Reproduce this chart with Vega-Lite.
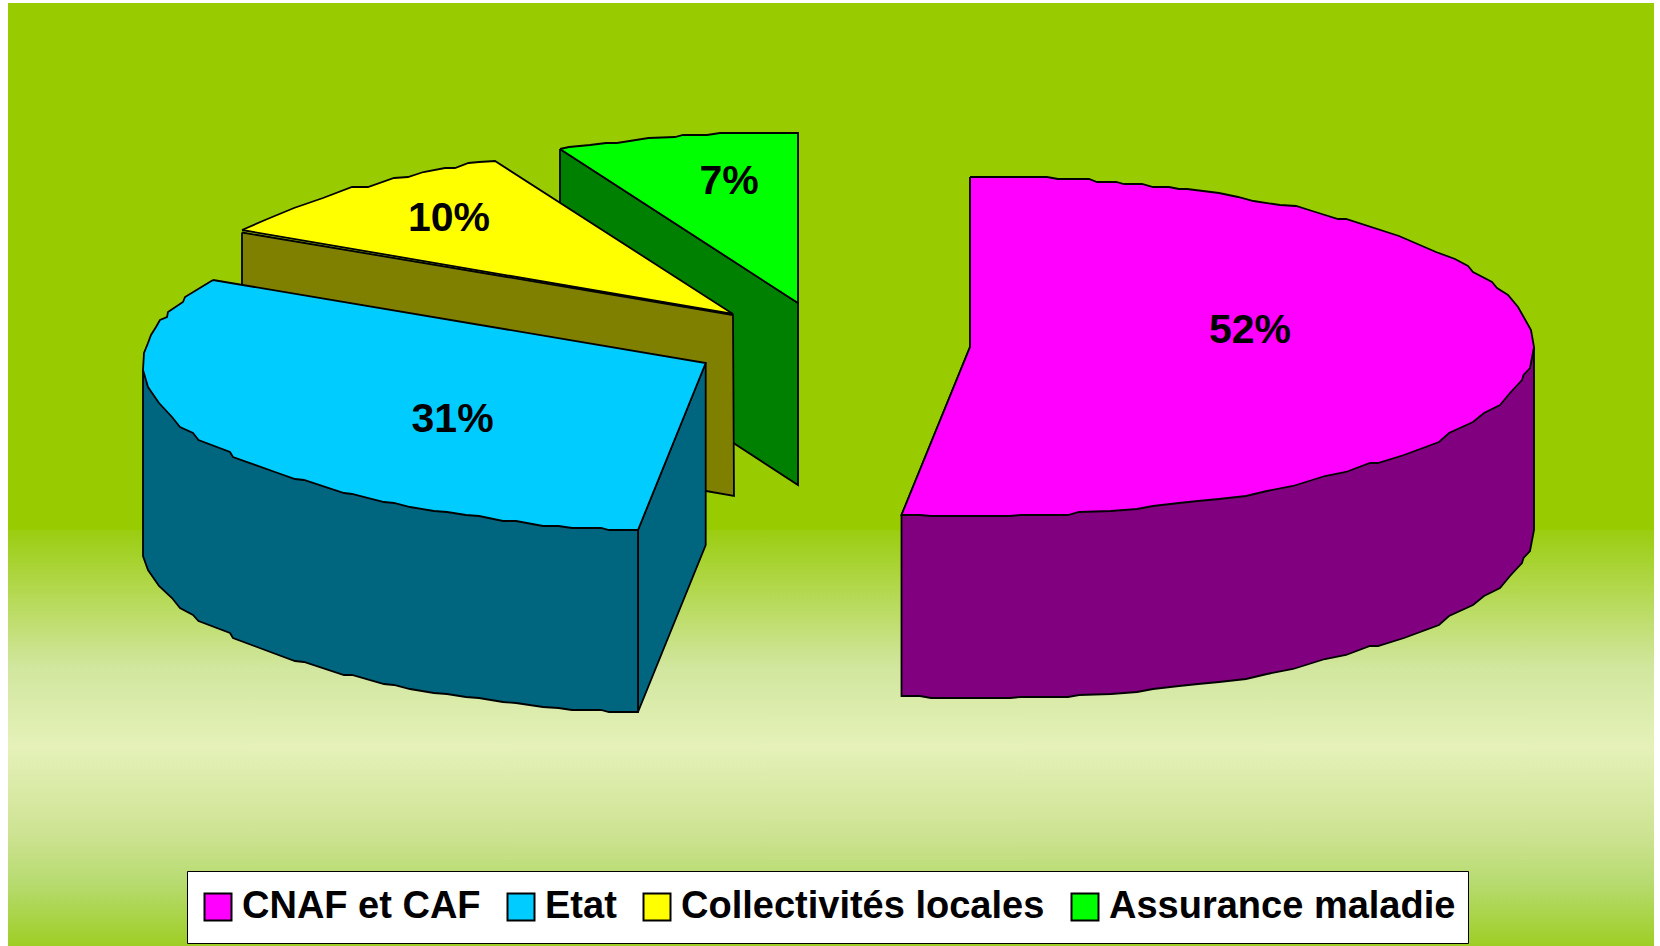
{"$schema":"https://vega.github.io/schema/vega-lite/v6.json","autosize":"none","width":1646,"height":943,"padding":{"left":8,"top":3,"right":6,"bottom":0},"background":"#ffffff","config":{"view":{"stroke":null,"fill":{"gradient":"linear","x1":0,"y1":0,"x2":0,"y2":1,"stops":[{"offset":0,"color":"#99CC00"},{"offset":0.5585,"color":"#99CC00"},{"offset":0.559,"color":"#9BCD10"},{"offset":0.704,"color":"#D1E69E"},{"offset":0.789,"color":"#E5F1B9"},{"offset":0.88,"color":"#CEE393"},{"offset":0.933,"color":"#B7DB70"},{"offset":1,"color":"#9ECE25"}]}}},"datasets":{"sides":[
{"financeur":"Assurance maladie","forme":"g","n":1,"x":560,"y":149},{"financeur":"Assurance maladie","forme":"g","n":2,"x":798,"y":303},{"financeur":"Assurance maladie","forme":"g","n":3,"x":798,"y":485},{"financeur":"Assurance maladie","forme":"g","n":4,"x":560,"y":330},{"financeur":"Assurance maladie","forme":"g","n":5,"x":560,"y":149},
{"financeur":"Collectivités locales","forme":"y","n":1,"x":242,"y":232.5},{"financeur":"Collectivités locales","forme":"y","n":2,"x":733,"y":315},{"financeur":"Collectivités locales","forme":"y","n":3,"x":734,"y":496},{"financeur":"Collectivités locales","forme":"y","n":4,"x":706,"y":491},{"financeur":"Collectivités locales","forme":"y","n":5,"x":242,"y":416},{"financeur":"Collectivités locales","forme":"y","n":6,"x":242,"y":232.5},
{"financeur":"Etat","forme":"b1","n":1,"x":638,"y":530},{"financeur":"Etat","forme":"b1","n":2,"x":705.7,"y":363},{"financeur":"Etat","forme":"b1","n":3,"x":705.7,"y":545},{"financeur":"Etat","forme":"b1","n":4,"x":638,"y":712},{"financeur":"Etat","forme":"b1","n":5,"x":638,"y":530},
{"financeur":"Etat","forme":"b2","n":1,"x":143,"y":370},{"financeur":"Etat","forme":"b2","n":2,"x":143,"y":556},{"financeur":"Etat","forme":"b2","n":3,"x":148,"y":570},{"financeur":"Etat","forme":"b2","n":4,"x":159,"y":586},{"financeur":"Etat","forme":"b2","n":5,"x":172,"y":598},{"financeur":"Etat","forme":"b2","n":6,"x":180,"y":608},{"financeur":"Etat","forme":"b2","n":7,"x":193,"y":615},{"financeur":"Etat","forme":"b2","n":8,"x":198.5,"y":621},{"financeur":"Etat","forme":"b2","n":9,"x":230,"y":633},{"financeur":"Etat","forme":"b2","n":10,"x":233,"y":638},{"financeur":"Etat","forme":"b2","n":11,"x":265,"y":650},{"financeur":"Etat","forme":"b2","n":12,"x":295,"y":661},{"financeur":"Etat","forme":"b2","n":13,"x":304,"y":662},{"financeur":"Etat","forme":"b2","n":14,"x":344,"y":675},{"financeur":"Etat","forme":"b2","n":15,"x":352,"y":675},{"financeur":"Etat","forme":"b2","n":16,"x":384,"y":684},{"financeur":"Etat","forme":"b2","n":17,"x":394,"y":685},{"financeur":"Etat","forme":"b2","n":18,"x":410,"y":689},{"financeur":"Etat","forme":"b2","n":19,"x":434,"y":693},{"financeur":"Etat","forme":"b2","n":20,"x":447,"y":694},{"financeur":"Etat","forme":"b2","n":21,"x":466,"y":697},{"financeur":"Etat","forme":"b2","n":22,"x":479,"y":698},{"financeur":"Etat","forme":"b2","n":23,"x":503,"y":702},{"financeur":"Etat","forme":"b2","n":24,"x":516,"y":703},{"financeur":"Etat","forme":"b2","n":25,"x":543,"y":707},{"financeur":"Etat","forme":"b2","n":26,"x":558.5,"y":708},{"financeur":"Etat","forme":"b2","n":27,"x":572,"y":710},{"financeur":"Etat","forme":"b2","n":28,"x":601,"y":710},{"financeur":"Etat","forme":"b2","n":29,"x":609,"y":712},{"financeur":"Etat","forme":"b2","n":30,"x":638,"y":712},{"financeur":"Etat","forme":"b2","n":31,"x":638,"y":530},{"financeur":"Etat","forme":"b2","n":32,"x":143,"y":370},
{"financeur":"CNAF et CAF","forme":"m","n":1,"x":1534,"y":347},{"financeur":"CNAF et CAF","forme":"m","n":2,"x":1534,"y":530},{"financeur":"CNAF et CAF","forme":"m","n":3,"x":1530,"y":551},{"financeur":"CNAF et CAF","forme":"m","n":4,"x":1523.5,"y":558},{"financeur":"CNAF et CAF","forme":"m","n":5,"x":1522,"y":563},{"financeur":"CNAF et CAF","forme":"m","n":6,"x":1515.5,"y":570},{"financeur":"CNAF et CAF","forme":"m","n":7,"x":1510,"y":576},{"financeur":"CNAF et CAF","forme":"m","n":8,"x":1500,"y":588},{"financeur":"CNAF et CAF","forme":"m","n":9,"x":1484,"y":596},{"financeur":"CNAF et CAF","forme":"m","n":10,"x":1473,"y":605},{"financeur":"CNAF et CAF","forme":"m","n":11,"x":1449,"y":616},{"financeur":"CNAF et CAF","forme":"m","n":12,"x":1439,"y":625},{"financeur":"CNAF et CAF","forme":"m","n":13,"x":1404,"y":638},{"financeur":"CNAF et CAF","forme":"m","n":14,"x":1378,"y":646},{"financeur":"CNAF et CAF","forme":"m","n":15,"x":1370,"y":646},{"financeur":"CNAF et CAF","forme":"m","n":16,"x":1346,"y":655},{"financeur":"CNAF et CAF","forme":"m","n":17,"x":1325,"y":659},{"financeur":"CNAF et CAF","forme":"m","n":18,"x":1293,"y":669},{"financeur":"CNAF et CAF","forme":"m","n":19,"x":1267,"y":674},{"financeur":"CNAF et CAF","forme":"m","n":20,"x":1246,"y":679},{"financeur":"CNAF et CAF","forme":"m","n":21,"x":1219,"y":682},{"financeur":"CNAF et CAF","forme":"m","n":22,"x":1198,"y":684},{"financeur":"CNAF et CAF","forme":"m","n":23,"x":1179,"y":686},{"financeur":"CNAF et CAF","forme":"m","n":24,"x":1153,"y":689},{"financeur":"CNAF et CAF","forme":"m","n":25,"x":1137,"y":692},{"financeur":"CNAF et CAF","forme":"m","n":26,"x":1111,"y":694},{"financeur":"CNAF et CAF","forme":"m","n":27,"x":1079,"y":695},{"financeur":"CNAF et CAF","forme":"m","n":28,"x":1068,"y":697},{"financeur":"CNAF et CAF","forme":"m","n":29,"x":1021,"y":697},{"financeur":"CNAF et CAF","forme":"m","n":30,"x":1010,"y":698},{"financeur":"CNAF et CAF","forme":"m","n":31,"x":931,"y":698},{"financeur":"CNAF et CAF","forme":"m","n":32,"x":920,"y":696},{"financeur":"CNAF et CAF","forme":"m","n":33,"x":901.5,"y":696},{"financeur":"CNAF et CAF","forme":"m","n":34,"x":901.5,"y":515},{"financeur":"CNAF et CAF","forme":"m","n":35,"x":970,"y":347},{"financeur":"CNAF et CAF","forme":"m","n":36,"x":1534,"y":347}
],"tops":[
{"financeur":"Assurance maladie","forme":"g","n":1,"x":560,"y":149},{"financeur":"Assurance maladie","forme":"g","n":2,"x":569,"y":147},{"financeur":"Assurance maladie","forme":"g","n":3,"x":590,"y":145},{"financeur":"Assurance maladie","forme":"g","n":4,"x":606,"y":143},{"financeur":"Assurance maladie","forme":"g","n":5,"x":617,"y":143},{"financeur":"Assurance maladie","forme":"g","n":6,"x":648.5,"y":138},{"financeur":"Assurance maladie","forme":"g","n":7,"x":675,"y":137},{"financeur":"Assurance maladie","forme":"g","n":8,"x":683,"y":135},{"financeur":"Assurance maladie","forme":"g","n":9,"x":707,"y":135},{"financeur":"Assurance maladie","forme":"g","n":10,"x":720,"y":133},{"financeur":"Assurance maladie","forme":"g","n":11,"x":798,"y":133},{"financeur":"Assurance maladie","forme":"g","n":12,"x":798,"y":303},{"financeur":"Assurance maladie","forme":"g","n":13,"x":560,"y":149},
{"financeur":"Collectivités locales","forme":"y","n":1,"x":242,"y":230},{"financeur":"Collectivités locales","forme":"y","n":2,"x":265,"y":220},{"financeur":"Collectivités locales","forme":"y","n":3,"x":294,"y":208},{"financeur":"Collectivités locales","forme":"y","n":4,"x":323,"y":198},{"financeur":"Collectivités locales","forme":"y","n":5,"x":352,"y":187},{"financeur":"Collectivités locales","forme":"y","n":6,"x":368,"y":187},{"financeur":"Collectivités locales","forme":"y","n":7,"x":394,"y":178},{"financeur":"Collectivités locales","forme":"y","n":8,"x":408,"y":177},{"financeur":"Collectivités locales","forme":"y","n":9,"x":423.5,"y":172},{"financeur":"Collectivités locales","forme":"y","n":10,"x":445,"y":168},{"financeur":"Collectivités locales","forme":"y","n":11,"x":455,"y":168},{"financeur":"Collectivités locales","forme":"y","n":12,"x":468.5,"y":163},{"financeur":"Collectivités locales","forme":"y","n":13,"x":479,"y":162},{"financeur":"Collectivités locales","forme":"y","n":14,"x":495,"y":161},{"financeur":"Collectivités locales","forme":"y","n":15,"x":733,"y":314},{"financeur":"Collectivités locales","forme":"y","n":16,"x":242,"y":230},
{"financeur":"Etat","forme":"b","n":1,"x":213,"y":280},{"financeur":"Etat","forme":"b","n":2,"x":185,"y":297},{"financeur":"Etat","forme":"b","n":3,"x":183,"y":302},{"financeur":"Etat","forme":"b","n":4,"x":168,"y":312},{"financeur":"Etat","forme":"b","n":5,"x":167,"y":317},{"financeur":"Etat","forme":"b","n":6,"x":160,"y":320},{"financeur":"Etat","forme":"b","n":7,"x":156,"y":327},{"financeur":"Etat","forme":"b","n":8,"x":151,"y":335},{"financeur":"Etat","forme":"b","n":9,"x":148,"y":343},{"financeur":"Etat","forme":"b","n":10,"x":144,"y":353},{"financeur":"Etat","forme":"b","n":11,"x":143,"y":370},{"financeur":"Etat","forme":"b","n":12,"x":148,"y":387},{"financeur":"Etat","forme":"b","n":13,"x":159,"y":403},{"financeur":"Etat","forme":"b","n":14,"x":172,"y":417},{"financeur":"Etat","forme":"b","n":15,"x":180,"y":427},{"financeur":"Etat","forme":"b","n":16,"x":193,"y":433},{"financeur":"Etat","forme":"b","n":17,"x":198.5,"y":440},{"financeur":"Etat","forme":"b","n":18,"x":230,"y":452},{"financeur":"Etat","forme":"b","n":19,"x":233,"y":457},{"financeur":"Etat","forme":"b","n":20,"x":275,"y":472},{"financeur":"Etat","forme":"b","n":21,"x":295,"y":479},{"financeur":"Etat","forme":"b","n":22,"x":304,"y":480},{"financeur":"Etat","forme":"b","n":23,"x":344,"y":493},{"financeur":"Etat","forme":"b","n":24,"x":352,"y":494},{"financeur":"Etat","forme":"b","n":25,"x":384,"y":502},{"financeur":"Etat","forme":"b","n":26,"x":394,"y":503},{"financeur":"Etat","forme":"b","n":27,"x":410,"y":507},{"financeur":"Etat","forme":"b","n":28,"x":434,"y":511},{"financeur":"Etat","forme":"b","n":29,"x":447,"y":512},{"financeur":"Etat","forme":"b","n":30,"x":466,"y":515},{"financeur":"Etat","forme":"b","n":31,"x":479,"y":516},{"financeur":"Etat","forme":"b","n":32,"x":503,"y":521},{"financeur":"Etat","forme":"b","n":33,"x":516,"y":521},{"financeur":"Etat","forme":"b","n":34,"x":543,"y":526},{"financeur":"Etat","forme":"b","n":35,"x":558.5,"y":526},{"financeur":"Etat","forme":"b","n":36,"x":572,"y":528},{"financeur":"Etat","forme":"b","n":37,"x":601,"y":528},{"financeur":"Etat","forme":"b","n":38,"x":609,"y":530},{"financeur":"Etat","forme":"b","n":39,"x":638,"y":530},{"financeur":"Etat","forme":"b","n":40,"x":705.7,"y":363},{"financeur":"Etat","forme":"b","n":41,"x":213,"y":280},
{"financeur":"CNAF et CAF","forme":"m","n":1,"x":970,"y":177},{"financeur":"CNAF et CAF","forme":"m","n":2,"x":1047,"y":177},{"financeur":"CNAF et CAF","forme":"m","n":3,"x":1058,"y":179},{"financeur":"CNAF et CAF","forme":"m","n":4,"x":1089,"y":179},{"financeur":"CNAF et CAF","forme":"m","n":5,"x":1097,"y":182},{"financeur":"CNAF et CAF","forme":"m","n":6,"x":1116,"y":182},{"financeur":"CNAF et CAF","forme":"m","n":7,"x":1124,"y":184},{"financeur":"CNAF et CAF","forme":"m","n":8,"x":1142,"y":184},{"financeur":"CNAF et CAF","forme":"m","n":9,"x":1153,"y":187},{"financeur":"CNAF et CAF","forme":"m","n":10,"x":1169,"y":187},{"financeur":"CNAF et CAF","forme":"m","n":11,"x":1179,"y":189},{"financeur":"CNAF et CAF","forme":"m","n":12,"x":1187,"y":189},{"financeur":"CNAF et CAF","forme":"m","n":13,"x":1219,"y":193},{"financeur":"CNAF et CAF","forme":"m","n":14,"x":1238,"y":197},{"financeur":"CNAF et CAF","forme":"m","n":15,"x":1253.5,"y":201},{"financeur":"CNAF et CAF","forme":"m","n":16,"x":1280,"y":205},{"financeur":"CNAF et CAF","forme":"m","n":17,"x":1296,"y":206},{"financeur":"CNAF et CAF","forme":"m","n":18,"x":1309,"y":210},{"financeur":"CNAF et CAF","forme":"m","n":19,"x":1338,"y":219},{"financeur":"CNAF et CAF","forme":"m","n":20,"x":1346,"y":219},{"financeur":"CNAF et CAF","forme":"m","n":21,"x":1399,"y":236},{"financeur":"CNAF et CAF","forme":"m","n":22,"x":1436,"y":252},{"financeur":"CNAF et CAF","forme":"m","n":23,"x":1455,"y":259},{"financeur":"CNAF et CAF","forme":"m","n":24,"x":1468,"y":266},{"financeur":"CNAF et CAF","forme":"m","n":25,"x":1473,"y":272},{"financeur":"CNAF et CAF","forme":"m","n":26,"x":1492,"y":282},{"financeur":"CNAF et CAF","forme":"m","n":27,"x":1497,"y":288},{"financeur":"CNAF et CAF","forme":"m","n":28,"x":1508,"y":295},{"financeur":"CNAF et CAF","forme":"m","n":29,"x":1518,"y":307},{"financeur":"CNAF et CAF","forme":"m","n":30,"x":1531,"y":330},{"financeur":"CNAF et CAF","forme":"m","n":31,"x":1534,"y":347},{"financeur":"CNAF et CAF","forme":"m","n":32,"x":1530,"y":368},{"financeur":"CNAF et CAF","forme":"m","n":33,"x":1523.5,"y":375},{"financeur":"CNAF et CAF","forme":"m","n":34,"x":1522,"y":380},{"financeur":"CNAF et CAF","forme":"m","n":35,"x":1515.5,"y":387},{"financeur":"CNAF et CAF","forme":"m","n":36,"x":1510,"y":393},{"financeur":"CNAF et CAF","forme":"m","n":37,"x":1500,"y":405},{"financeur":"CNAF et CAF","forme":"m","n":38,"x":1484,"y":413},{"financeur":"CNAF et CAF","forme":"m","n":39,"x":1473,"y":422},{"financeur":"CNAF et CAF","forme":"m","n":40,"x":1449,"y":433},{"financeur":"CNAF et CAF","forme":"m","n":41,"x":1439,"y":442},{"financeur":"CNAF et CAF","forme":"m","n":42,"x":1404,"y":455},{"financeur":"CNAF et CAF","forme":"m","n":43,"x":1378,"y":463},{"financeur":"CNAF et CAF","forme":"m","n":44,"x":1370,"y":463},{"financeur":"CNAF et CAF","forme":"m","n":45,"x":1346,"y":472},{"financeur":"CNAF et CAF","forme":"m","n":46,"x":1325,"y":476},{"financeur":"CNAF et CAF","forme":"m","n":47,"x":1293,"y":486},{"financeur":"CNAF et CAF","forme":"m","n":48,"x":1267,"y":491},{"financeur":"CNAF et CAF","forme":"m","n":49,"x":1246,"y":496},{"financeur":"CNAF et CAF","forme":"m","n":50,"x":1219,"y":499},{"financeur":"CNAF et CAF","forme":"m","n":51,"x":1198,"y":501},{"financeur":"CNAF et CAF","forme":"m","n":52,"x":1179,"y":503},{"financeur":"CNAF et CAF","forme":"m","n":53,"x":1153,"y":506},{"financeur":"CNAF et CAF","forme":"m","n":54,"x":1137,"y":509},{"financeur":"CNAF et CAF","forme":"m","n":55,"x":1111,"y":511},{"financeur":"CNAF et CAF","forme":"m","n":56,"x":1079,"y":512},{"financeur":"CNAF et CAF","forme":"m","n":57,"x":1068,"y":515},{"financeur":"CNAF et CAF","forme":"m","n":58,"x":1021,"y":515},{"financeur":"CNAF et CAF","forme":"m","n":59,"x":1010,"y":516},{"financeur":"CNAF et CAF","forme":"m","n":60,"x":931,"y":516},{"financeur":"CNAF et CAF","forme":"m","n":61,"x":920,"y":515},{"financeur":"CNAF et CAF","forme":"m","n":62,"x":901.5,"y":515},{"financeur":"CNAF et CAF","forme":"m","n":63,"x":970,"y":347},{"financeur":"CNAF et CAF","forme":"m","n":64,"x":970,"y":177}
],"parts":[{"financeur":"CNAF et CAF","part":"52%","x":1250,"y":331},{"financeur":"Etat","part":"31%","x":452.6,"y":420},{"financeur":"Collectivités locales","part":"10%","x":449,"y":219},{"financeur":"Assurance maladie","part":"7%","x":729,"y":182}]},
"resolve":{"scale":{"color":"independent"}},
"layer":[
{"data":{"name":"sides"},"mark":{"type":"line","filled":true,"stroke":"#000000","strokeWidth":1.8,"strokeJoin":"miter","clip":false},"encoding":{"x":{"field":"x","type":"quantitative","scale":{"domain":[8,1654],"nice":false,"zero":false},"axis":null},"y":{"field":"y","type":"quantitative","scale":{"domain":[946,3],"nice":false,"zero":false},"axis":null},"order":{"field":"n","type":"ordinal"},"detail":{"field":"forme","type":"nominal"},"color":{"field":"financeur","type":"nominal","scale":{"domain":["CNAF et CAF","Etat","Collectivités locales","Assurance maladie"],"range":["#800080","#006680","#808000","#008000"]},"legend":null}}},
{"data":{"name":"tops"},"mark":{"type":"line","filled":true,"stroke":"#000000","strokeWidth":1.8,"strokeJoin":"miter","clip":false},"encoding":{"x":{"field":"x","type":"quantitative"},"y":{"field":"y","type":"quantitative"},"order":{"field":"n","type":"ordinal"},"detail":{"field":"forme","type":"nominal"},"color":{"field":"financeur","type":"nominal","scale":{"domain":["CNAF et CAF","Etat","Collectivités locales","Assurance maladie"],"range":["#FF00FF","#00CCFF","#FFFF00","#00FF00"]},"legend":{"title":null,"orient":"none","legendX":179,"legendY":868,"columns":4,"columnPadding":21,"padding":12,"clipHeight":48,"fillColor":"#ffffff","strokeColor":"#000000","symbolType":"square","symbolSize":729,"symbolStrokeColor":"#000000","symbolStrokeWidth":2,"labelOffset":5,"labelFont":"Liberation Sans","labelFontSize":38,"labelFontWeight":"bold","labelColor":"#000000","labelLimit":600}}}},
{"data":{"name":"parts"},"mark":{"type":"text","font":"Liberation Sans","fontWeight":"bold","fontSize":41,"color":"#000000","align":"center","baseline":"middle"},"encoding":{"x":{"field":"x","type":"quantitative"},"y":{"field":"y","type":"quantitative"},"text":{"field":"part","type":"nominal"}}}
]}
